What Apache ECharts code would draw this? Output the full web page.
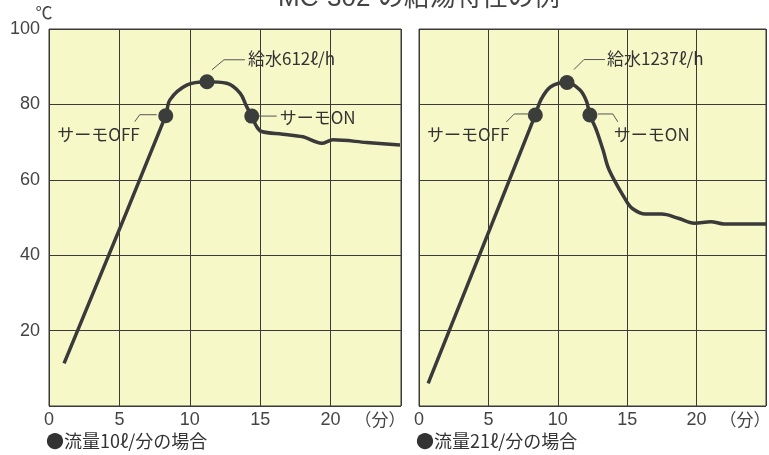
<!DOCTYPE html>
<html><head><meta charset="utf-8">
<script src="https://cdn.jsdelivr.net/npm/echarts@6/dist/echarts.min.js"></script>
<style>html,body{margin:0;padding:0;background:#fff}#c{width:769px;height:455px}</style>
</head><body><div id="c"></div>
<script>
// ---- data ----
const titleText = 'MC-302 の給湯特性の例';
const xTicks = [0, 5, 10, 15, 20];
const yTicks = [20, 40, 60, 80, 100];
const leftX = [1.07, 8.29, 8.59, 9.78, 11.22, 12.62, 13.57, 14.04, 14.4, 14.75, 15.1, 16.6, 18.04, 19.37, 20.17, 22.56, 24.93];
const leftY = [11.3, 77.0, 81.2, 85.1, 86.0, 85.6, 83.0, 79.4, 76.9, 74.1, 72.8, 72.1, 71.4, 69.7, 70.6, 69.9, 69.2];
const rightX = [0.66, 8.38, 8.78, 9.49, 10.66, 11.6, 12.08, 12.31, 12.78, 13.26, 13.7, 14.9, 15.37, 16.31, 17.49, 18.67, 19.85, 21.02, 21.96, 24.67, 25];
const rightY = [6.0, 77.2, 81.2, 84.7, 85.8, 83.8, 80.7, 77.2, 73.2, 67.9, 62.6, 54.6, 52.4, 50.9, 50.9, 49.8, 48.5, 48.9, 48.3, 48.3, 48.3];
const leftMarkX = [8.29, 11.22, 14.4];
const leftMarkY = [77.0, 86.0, 76.9];
const rightMarkX = [8.38, 10.66, 12.31];
const rightMarkY = [77.2, 85.8, 77.2];
const leftLabels = ['サーモOFF', '給水612ℓ/h', 'サーモON'];
const rightLabels = ['サーモOFF', '給水1237ℓ/h', 'サーモON'];
const captions = ['●流量10ℓ/分の場合', '●流量21ℓ/分の場合'];
const unitX = '（分）';
const unitY = '℃';

const NUMFONT = '"Liberation Sans", "Noto Sans CJK JP", sans-serif';
const FONT = '"Noto Sans CJK JP", "Noto Sans", sans-serif';
const INK = '#3a3a3a';
const chart = echarts.init(document.getElementById('c'), null, {renderer: 'canvas'});

function zip(a, b) { return a.map((v, i) => [v, b[i]]); }
function xAxis(i) {
  return {
    type: 'value', gridIndex: i, min: 0, max: 25, interval: 5,
    axisLine: {show: false}, axisTick: {show: false},
    axisLabel: {margin: 5, color: '#444', fontSize: 18, fontFamily: NUMFONT,
      formatter: v => (xTicks.indexOf(v) >= 0 ? String(v) : '')},
    splitLine: {show: true, lineStyle: {color: '#3a3a3a', width: 1}}
  };
}
function yAxis(i, show) {
  return {
    type: 'value', gridIndex: i, min: 0, max: 100, interval: 20,
    axisLine: {show: false}, axisTick: {show: false},
    axisLabel: {show: show, margin: 9, color: '#444', fontSize: 18, fontFamily: NUMFONT,
      formatter: v => (yTicks.indexOf(v) >= 0 ? String(v) : '')},
    splitLine: {show: true, lineStyle: {color: '#3a3a3a', width: 1}}
  };
}
const gridStyle = {show: true, backgroundColor: '#f7f8c8', borderColor: '#3a3a3a', borderWidth: 1};

chart.setOption({
  animation: false,
  backgroundColor: '#fff',
  grid: [
    Object.assign({left: 49, top: 29, width: 352, height: 377}, gridStyle),
    Object.assign({left: 419, top: 29, width: 354, height: 377}, gridStyle)
  ],
  xAxis: [xAxis(0), xAxis(1)],
  yAxis: [yAxis(0, true), yAxis(1, false)],
  series: [
    {type: 'line', xAxisIndex: 0, yAxisIndex: 0, data: zip(leftX, leftY), smooth: 0.35, showSymbol: false,
      lineStyle: {color: INK, width: 3.5}},
    {type: 'line', xAxisIndex: 1, yAxisIndex: 1, data: zip(rightX, rightY), smooth: 0.35, showSymbol: false,
      lineStyle: {color: INK, width: 3.5}},
    {type: 'scatter', xAxisIndex: 0, yAxisIndex: 0, data: zip(leftMarkX, leftMarkY), symbolSize: 15,
      itemStyle: {color: '#3a3d3a', opacity: 1}, z: 5},
    {type: 'scatter', xAxisIndex: 1, yAxisIndex: 1, data: zip(rightMarkX, rightMarkY), symbolSize: 15,
      itemStyle: {color: '#3a3d3a', opacity: 1}, z: 5}
  ]
});

// annotation leader offsets (pixels relative to marker) and label anchors
const leaders = [
  [{pts: [[-31, 6], [-26, -1], [-9, -1]], text: [-26, 19], align: 'right'},
   {pts: [[5, -12], [17, -22], [38, -22]], text: [41, -23], align: 'left'},
   {pts: [[7, 0], [25, 0]], text: [28, 1], align: 'left'}],
  [{pts: [[-29, 7], [-21, -1], [-5, -1]], text: [-26, 20], align: 'right'},
   {pts: [[7, -13], [17, -23], [38, -23]], text: [40, -24], align: 'left'},
   {pts: [[8, -1], [23, -1], [28, 7]], text: [24, 20], align: 'left'}]
];
const marks = [[leftMarkX, leftMarkY, leftLabels], [rightMarkX, rightMarkY, rightLabels]];
const g = [];
marks.forEach((m, gi) => {
  m[0].forEach((x, k) => {
    const p = chart.convertToPixel({gridIndex: gi}, [x, m[1][k]]);
    const L = leaders[gi][k];
    g.push({type: 'polyline', z: 10, shape: {points: L.pts.map(q => [p[0] + q[0], p[1] + q[1]])},
      style: {stroke: '#555', lineWidth: 1, fill: null}});
    g.push({type: 'text', z: 10, x: p[0] + L.text[0], y: p[1] + L.text[1],
      style: {text: m[2][k], fill: '#333', font: '17px ' + FONT, align: L.align, verticalAlign: 'middle'}});
  });
  const u = chart.convertToPixel({gridIndex: gi}, [25, 0]);
  g.push({type: 'text', x: u[0] - 21, y: u[1] + 14, style: {text: unitX, fill: '#444', font: '17px ' + FONT, align: 'center', verticalAlign: 'middle'}});
  const c0 = chart.convertToPixel({gridIndex: gi}, [0, 0]);
  g.push({type: 'text', x: c0[0] - 3, y: 441, style: {text: captions[gi], fill: '#333', font: '18px ' + FONT, align: 'left', verticalAlign: 'middle'}});
});
const top0 = chart.convertToPixel({gridIndex: 0}, [0, 100]);
g.push({type: 'text', x: top0[0] - 5, y: top0[1] - 16, style: {text: unitY, fill: '#444', font: '17px ' + FONT, align: 'center', verticalAlign: 'middle'}});
g.push({type: 'text', x: 278, y: 12, style: {text: titleText, fill: '#444', font: '26px ' + NUMFONT, align: 'left', verticalAlign: 'bottom'}});
chart.setOption({graphic: g});
</script></body></html>
